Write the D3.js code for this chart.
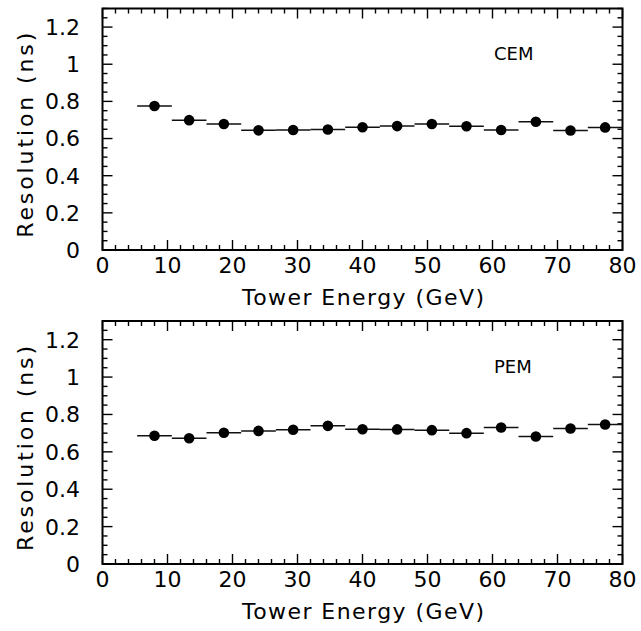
<!DOCTYPE html>
<html>
<head>
<meta charset="utf-8">
<script src="https://cdn.jsdelivr.net/npm/d3@7"></script>
<style>
  html, body { margin: 0; padding: 0; background: #fff; }
  svg { display: block; }
  text { font-family: "DejaVu Sans", sans-serif; fill: #000; }
</style>
</head>
<body>
<svg id="chart" width="641" height="631"></svg>
<script>
// ---- data ----
const energyBins = [8, 13.33, 18.67, 24, 29.33, 34.67, 40, 45.33, 50.67, 56, 61.33, 66.67, 72, 77.33];
const binHalfWidth = 2.667;
const cemResolution = [0.775, 0.699, 0.678, 0.644, 0.646, 0.649, 0.661, 0.667, 0.678, 0.666, 0.646, 0.690, 0.643, 0.660];
const pemResolution = [0.686, 0.673, 0.702, 0.712, 0.718, 0.739, 0.721, 0.720, 0.716, 0.700, 0.730, 0.682, 0.725, 0.746];
const xTickLabels = ["0", "10", "20", "30", "40", "50", "60", "70", "80"];
const yTickLabels = ["0", "0.2", "0.4", "0.6", "0.8", "1", "1.2"];
const panelNames = ["CEM", "PEM"];
const xTitle = "Tower Energy (GeV)";
const yTitle = "Resolution (ns)";

const svg = d3.select("#chart");
const left = 102.5, right = 622.5;
const x = d3.scaleLinear().domain([0, 80]).range([left, right]);

const panels = [
  { name: panelNames[0], values: cemResolution, top: 8.5, bottom: 250 },
  { name: panelNames[1], values: pemResolution, top: 321, bottom: 564 }
];

panels.forEach(p => {
  const y = d3.scaleLinear().domain([0, 1.3]).range([p.bottom, p.top]);
  const g = svg.append("g");

  // minor / major ticks on all four sides, pointing inward
  const xMinor = d3.range(0, 80.001, 2);
  const xMajor = xTickLabels.map(Number);
  const yMinor = d3.range(0, 1.3001, 0.05);
  const yMajor = yTickLabels.map(Number);
  const majLen = 10, minLen = 5;

  const tickG = g.append("g").attr("stroke", "#000").attr("stroke-width", 1.4);
  xMinor.forEach(v => {
    const isMaj = xMajor.some(m => Math.abs(m - v) < 1e-6);
    const L = isMaj ? majLen : minLen;
    tickG.append("line").attr("x1", x(v)).attr("x2", x(v)).attr("y1", p.bottom).attr("y2", p.bottom - L);
    tickG.append("line").attr("x1", x(v)).attr("x2", x(v)).attr("y1", p.top).attr("y2", p.top + L);
  });
  yMinor.forEach(v => {
    const isMaj = yMajor.some(m => Math.abs(m - v) < 1e-6);
    const L = isMaj ? majLen : minLen;
    tickG.append("line").attr("x1", left).attr("x2", left + L).attr("y1", y(v)).attr("y2", y(v));
    tickG.append("line").attr("x1", right).attr("x2", right - L).attr("y1", y(v)).attr("y2", y(v));
  });

  // frame
  g.append("rect")
    .attr("x", left).attr("y", p.top)
    .attr("width", right - left).attr("height", p.bottom - p.top)
    .attr("fill", "none").attr("stroke", "#000").attr("stroke-width", 2);

  // x tick labels
  g.selectAll(".xl").data(xTickLabels).enter().append("text")
    .attr("x", d => x(+d)).attr("y", p.bottom + 23)
    .attr("text-anchor", "middle").attr("font-size", 22)
    .text(d => d);

  // y tick labels
  g.selectAll(".yl").data(yTickLabels).enter().append("text")
    .attr("x", 80).attr("y", d => y(+d)).attr("dy", "0.36em")
    .attr("text-anchor", "end").attr("font-size", 22)
    .text(d => d);

  // x title
  g.append("text")
    .attr("x", 363).attr("y", p.bottom + 55)
    .attr("text-anchor", "middle").attr("font-size", 22)
    .attr("textLength", 242).attr("lengthAdjust", "spacing")
    .text(xTitle);

  // y title
  const cy = (p.top + p.bottom) / 2 + 6;
  g.append("text")
    .attr("transform", `translate(33,${cy}) rotate(-90)`)
    .attr("text-anchor", "middle").attr("font-size", 22)
    .attr("textLength", 205).attr("lengthAdjust", "spacing")
    .text(yTitle);

  // label
  g.append("text")
    .attr("x", 494).attr("y", p.top + 51.5)
    .attr("font-size", 18)
    .text(p.name);

  // bin bars
  g.selectAll(".bar").data(p.values).enter().append("line")
    .attr("x1", (d, i) => x(Math.max(0, energyBins[i] - binHalfWidth)))
    .attr("x2", (d, i) => x(Math.min(80, energyBins[i] + binHalfWidth)))
    .attr("y1", d => y(d)).attr("y2", d => y(d))
    .attr("stroke", "#111").attr("stroke-width", 1.5);

  // points
  g.selectAll(".pt").data(p.values).enter().append("circle")
    .attr("cx", (d, i) => x(energyBins[i]))
    .attr("cy", d => y(d))
    .attr("r", 5.3)
    .attr("fill", "#000");
});
</script>
</body>
</html>
